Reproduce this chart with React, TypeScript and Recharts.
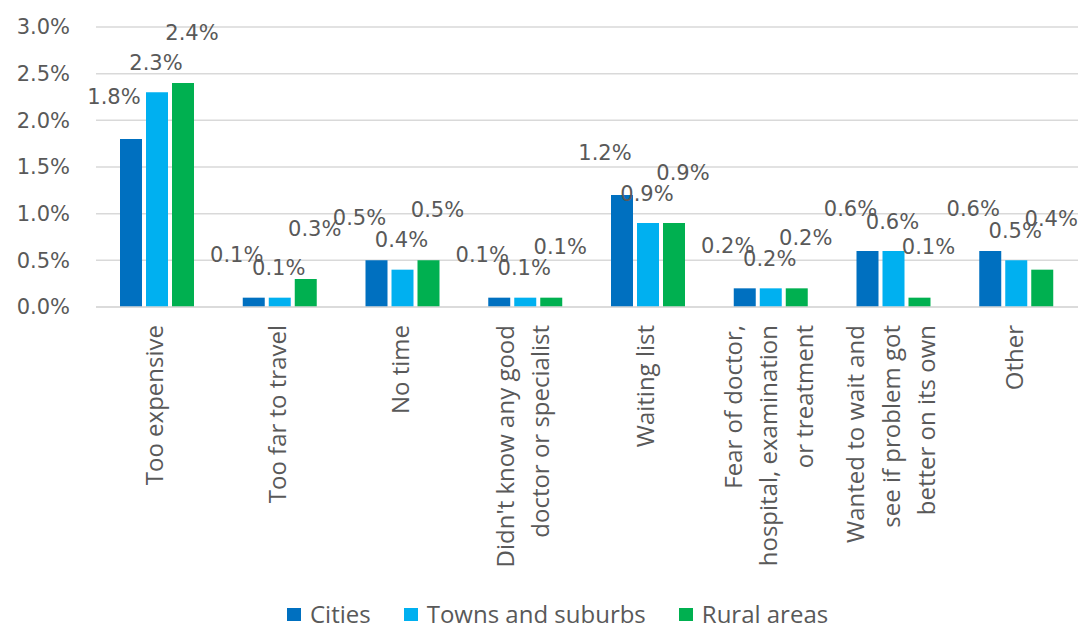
import React from 'react';
import { BarChart, Bar, XAxis, YAxis, CartesianGrid, Legend, LabelList } from 'recharts';

const categories: string[][] = [
  ['Too expensive'],
  ['Too far to travel'],
  ['No time'],
  ["Didn't know any good", 'doctor or specialist'],
  ['Waiting list'],
  ['Fear of doctor,', 'hospital, examination', 'or treatment'],
  ['Wanted to wait and', 'see if problem got', 'better on its own'],
  ['Other'],
];
const cities = [1.8, 0.1, 0.5, 0.1, 1.2, 0.2, 0.6, 0.6];
const towns = [2.3, 0.1, 0.4, 0.1, 0.9, 0.2, 0.6, 0.5];
const rural = [2.4, 0.3, 0.5, 0.1, 0.9, 0.2, 0.1, 0.4];
const yTicks = [0, 0.5, 1, 1.5, 2, 2.5, 3];
const seriesNames = ['Cities', 'Towns and suburbs', 'Rural areas'];
const seriesColors = ['#0070C0', '#00B0F0', '#00B050'];

const data = categories.map((c, i) => ({
  key: String(i),
  cities: cities[i],
  towns: towns[i],
  rural: rural[i],
}));

const GREY = '#595959';
const NUM_FONT = "'DejaVu Sans', sans-serif";
const CAT_FONT = "'Open Sans', sans-serif";

const makeLabel = (dx: number, up: number) => (props: any) => {
  const { x, y, width, value } = props;
  const cx = Number(x) + Number(width) / 2 + dx;
  const cy = Number(y) - up;
  return (
    <text
      x={cx}
      y={cy + 7.5}
      textAnchor="middle"
      fontFamily={NUM_FONT}
      fontSize={21}
      fill={GREY}
    >
      {Number(value).toFixed(1) + '%'}
    </text>
  );
};

const CategoryTick = (props: any) => {
  const { x, y, payload } = props;
  const lines = categories[Number(payload.value)] || [];
  const n = lines.length;
  const spacing = 35.5;
  return (
    <g transform={`translate(${x},${y + 18})`}>
      <text
        transform="rotate(-90)"
        textAnchor="end"
        fontFamily={CAT_FONT}
        fontSize={24}
        fill={GREY}
      >
        {lines.map((l, i) => (
          <tspan key={i} x={0} y={6 + (i - (n - 1) / 2) * spacing}>
            {l}
          </tspan>
        ))}
      </text>
    </g>
  );
};

const LegendContent = () => (
  <div
    style={{
      boxSizing: 'border-box',
      height: 40,
      paddingTop: 12,
      paddingLeft: 287,
      display: 'flex',
      alignItems: 'center',
      fontFamily: CAT_FONT,
      fontSize: 24,
      color: GREY,
      lineHeight: '26px',
      whiteSpace: 'nowrap',
    }}
  >
    {seriesNames.map((n, i) => (
      <div key={n} style={{ display: 'flex', alignItems: 'center', marginRight: 33 }}>
        <span
          style={{
            display: 'inline-block',
            width: 14,
            height: 13,
            background: seriesColors[i],
            marginRight: 9,
          }}
        />
        <span>{n}</span>
      </div>
    ))}
  </div>
);

export default function App() {
  return (
    <div style={{ position: 'absolute', left: 0, top: 0, background: '#fff' }}>
      <BarChart
        width={1083}
        height={628}
        data={data}
        margin={{ top: 27, right: 5, left: 0, bottom: 0 }}
        barSize={22}
        barGap={4}
      >
        <CartesianGrid vertical={false} stroke="#d9d9d9" strokeWidth={1.5} />
        <XAxis
          dataKey="key"
          height={281}
          tickLine={false}
          tickSize={0}
          tickMargin={0}
          axisLine={{ stroke: '#d9d9d9', strokeWidth: 1.5 }}
          tick={<CategoryTick />}
          interval={0}
        />
        <YAxis
          width={96}
          domain={[0, 3]}
          ticks={yTicks}
          axisLine={false}
          tickLine={false}
          tickSize={0}
          tickMargin={26}
          tick={{ fill: GREY, fontFamily: NUM_FONT, fontSize: 21 }}
          tickFormatter={(v: number) => v.toFixed(1) + '%'}
        />
        <Legend
          verticalAlign="bottom"
          content={<LegendContent />}
          wrapperStyle={{ left: 0, bottom: 0, width: 1083, height: 40 }}
        />
        <Bar dataKey="cities" name={seriesNames[0]} fill={seriesColors[0]} isAnimationActive={false}>
          <LabelList dataKey="cities" content={makeLabel(-17, 43)} />
        </Bar>
        <Bar dataKey="towns" name={seriesNames[1]} fill={seriesColors[1]} isAnimationActive={false}>
          <LabelList dataKey="towns" content={makeLabel(-1, 30)} />
        </Bar>
        <Bar dataKey="rural" name={seriesNames[2]} fill={seriesColors[2]} isAnimationActive={false}>
          <LabelList dataKey="rural" content={makeLabel(9, 51)} />
        </Bar>
      </BarChart>
    </div>
  );
}
